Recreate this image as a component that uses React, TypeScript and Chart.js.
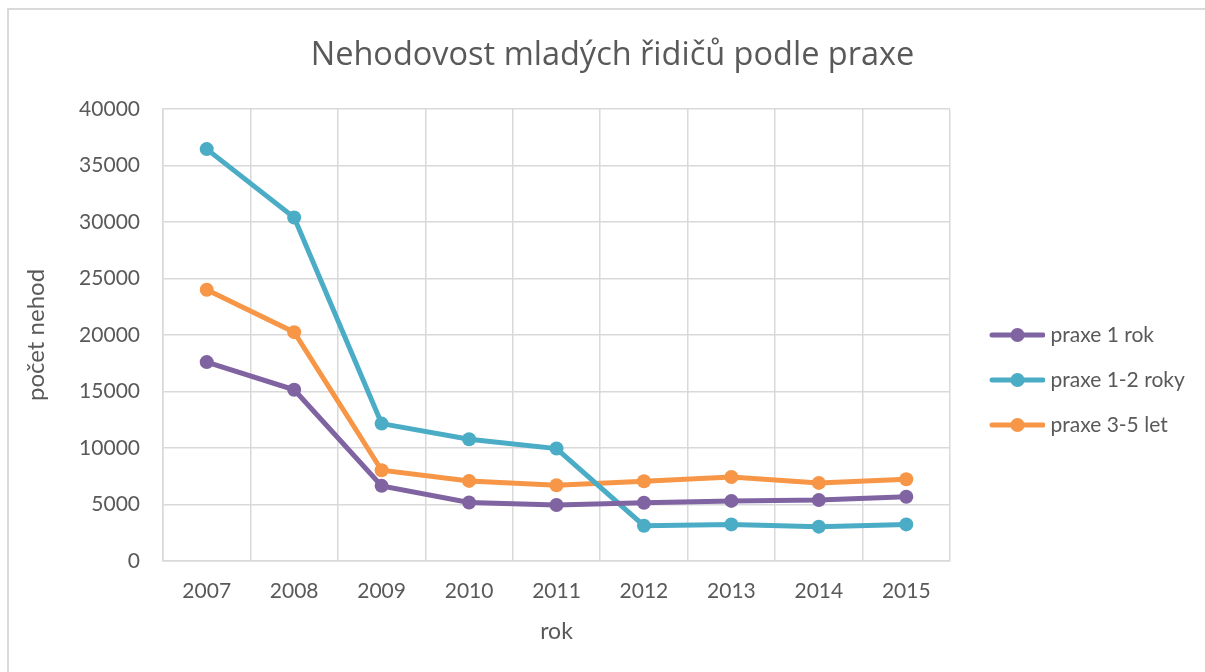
import React, { useEffect, useRef } from "react";
import { Chart, registerables } from "chart.js";

Chart.register(...registerables);

const years = ["2007", "2008", "2009", "2010", "2011", "2012", "2013", "2014", "2015"];
const praxe1rok = [17600, 15150, 6650, 5180, 4950, 5150, 5320, 5390, 5680];
const praxe12roky = [36450, 30400, 12160, 10770, 9950, 3120, 3240, 3040, 3240];
const praxe35let = [24000, 20250, 8030, 7090, 6710, 7060, 7440, 6910, 7240];
const seriesNames = ["praxe 1 rok", "praxe 1-2 roky", "praxe 3-5 let"];
const seriesColors = ["#8064A2", "#4BACC6", "#F79646"];
const titleText = "Nehodovost mladých řidičů podle praxe";
const yTitle = "počet nehod";
const xTitle = "rok";

const FONT = "Lato";
const GREY = "#595959";
const GRID = "#D9D9D9";

function legendIcon(color: string): HTMLCanvasElement {
  const c = document.createElement("canvas");
  c.width = 76;
  c.height = 18;
  const g = c.getContext("2d")!;
  g.strokeStyle = color;
  g.lineWidth = 5;
  g.lineCap = "round";
  g.beginPath();
  g.moveTo(23, 9);
  g.lineTo(74, 9);
  g.stroke();
  g.fillStyle = color;
  g.beginPath();
  g.arc(48.5, 9, 7, 0, Math.PI * 2);
  g.fill();
  return c;
}

export default function App() {
  const ref = useRef<HTMLCanvasElement | null>(null);

  useEffect(() => {
    if (!ref.current) return;
    const values = [praxe1rok, praxe12roky, praxe35let];
    const icons = seriesColors.map(legendIcon);
    const layoutFix = {
      id: "layoutFix",
      beforeLayout(chart: any) {
        const lg = chart.legend;
        if (lg && !lg.__patched) {
          const origFit = lg.fit;
          lg.fit = function () {
            origFit.call(this);
            this.width = 255;
          };
          lg.__patched = true;
        }
      },
      afterLayout(chart: any) {
        if (chart.legend) {
          chart.legend.top += 44;
          chart.legend.bottom += 44;
        }
        if (chart.titleBlock) {
          chart.titleBlock.left += 10;
          chart.titleBlock.right += 10;
        }
      },
    };
    const chart = new Chart(ref.current, {
      type: "line",
      data: {
        labels: years,
        datasets: values.map((v, i) => ({
          label: seriesNames[i],
          data: v,
          borderColor: seriesColors[i],
          backgroundColor: seriesColors[i],
          pointBackgroundColor: seriesColors[i],
          pointBorderColor: seriesColors[i],
          pointRadius: 7,
          pointBorderWidth: 0,
          borderWidth: 5,
          tension: 0,
          pointStyle: "circle",
        })),
      },
      options: {
        responsive: false,
        animation: false,
        devicePixelRatio: 1,
        layout: { padding: 0 },
        plugins: {
          title: {
            display: true,
            text: titleText,
            color: GREY,
            font: { family: "Open Sans", size: 32.5, weight: "normal" },
            padding: { top: 36, bottom: 34 },
          },
          legend: {
            position: "right",
            align: "center",
            labels: {
              color: GREY,
              font: { family: FONT, size: 21 },
              padding: 24,
              usePointStyle: true,
              pointStyleWidth: 66,
              generateLabels: (ch: any) =>
                ch.data.datasets.map((ds: any, i: number) => ({
                  text: ds.label,
                  fillStyle: seriesColors[i],
                  strokeStyle: seriesColors[i],
                  fontColor: GREY,
                  lineWidth: 0,
                  pointStyle: icons[i],
                  hidden: false,
                  datasetIndex: i,
                })),
            },
          },
          tooltip: { enabled: false },
        },
        scales: {
          x: {
            type: "category",
            offset: true,
            grid: { color: GRID, lineWidth: 1.5, drawTicks: false, offset: true },
            border: { color: GRID, width: 1.5 },
            ticks: { color: GREY, font: { family: FONT, size: 21 }, padding: 18 },
            title: {
              display: true,
              text: xTitle,
              color: GREY,
              font: { family: FONT, size: 23 },
              padding: { top: 0, bottom: 27 },
            },
            afterFit: (s: any) => {
              s.height = 111;
            },
          },
          y: {
            min: 0,
            max: 40000,
            grid: { color: GRID, lineWidth: 1.5, drawTicks: false },
            border: { color: GRID, width: 1.5 },
            ticks: {
              stepSize: 5000,
              color: GREY,
              font: { family: FONT, size: 21 },
              padding: 23,
              callback: (v: any) => String(v),
            },
            title: {
              display: true,
              text: yTitle,
              color: GREY,
              font: { family: FONT, size: 24 },
              padding: { top: 22, bottom: 0 },
            },
            afterFit: (s: any) => {
              s.width = 163;
            },
          },
        },
      },
      plugins: [layoutFix],
    } as any);
    return () => chart.destroy();
  }, []);

  return (
    <div style={{ position: "fixed", left: 0, top: 0, width: 1205, height: 672, background: "#fff", overflow: "hidden" }}>
      <div
        style={{
          position: "absolute",
          left: 7,
          top: 8,
          width: 1400,
          height: 900,
          border: "2px solid #D9D9D9",
          boxSizing: "border-box",
        }}
      />
      <canvas ref={ref} width={1205} height={672} style={{ position: "absolute", left: 0, top: 0, display: "block" }} />
    </div>
  );
}
